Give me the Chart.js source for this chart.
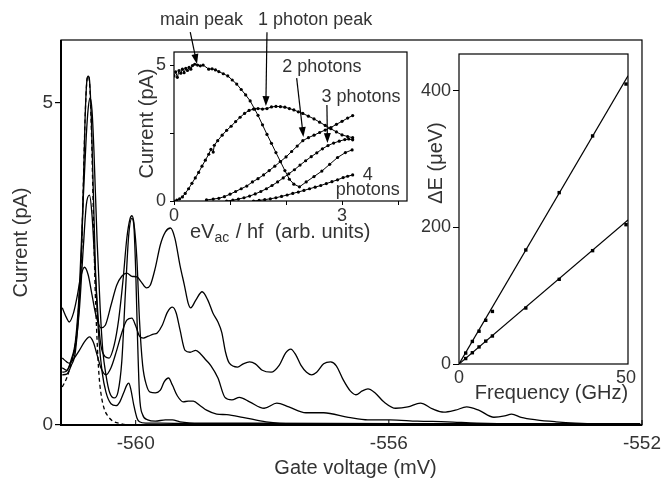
<!DOCTYPE html>
<html>
<head>
<meta charset="utf-8">
<script src="https://cdn.jsdelivr.net/npm/chart.js@4.4.0/dist/chart.umd.min.js"></script>
<style>
  html, body { margin: 0; padding: 0; background: #fff; }
  #wrap { position: relative; width: 668px; height: 480px; }
  canvas { position: absolute; }
  #main { left: 0; top: 0; }
  #ins1 { left: 100px; top: 5px; }
  #ins2 { left: 400px; top: 40px; }
</style>
</head>
<body>
<div id="wrap">
  <canvas id="main" width="668" height="480" style="width:668px;height:480px"></canvas>
  <canvas id="ins1" width="325" height="250" style="width:325px;height:250px"></canvas>
  <canvas id="ins2" width="260" height="370" style="width:260px;height:370px"></canvas>
</div>
<script>
// ---- main panel: current vs gate voltage, one sweep per microwave power ----
const gateTicks = [-560, -556, -552];
const currentTicks = [0, 5];

// no microwaves (dashed)
const vDark = [-561.16,-561.09,-561.02,-560.97,-560.92,-560.89,-560.86,-560.83,-560.80,-560.77,-560.75,-560.73,-560.70,-560.67,-560.64,-560.61,-560.58,-560.55,-560.50,-560.44,-560.36,-560.23,-560.08,-559.61,-552.03];
const iDark = [0.59,0.73,0.95,1.16,1.55,2.02,2.53,3.63,4.74,5.36,5.42,5.33,4.58,3.34,2.10,1.32,0.78,0.50,0.26,0.14,0.06,0.02,0,0,0];

const vP1 = [-561.16,-561.09,-561.02,-560.95,-560.89,-560.84,-560.80,-560.77,-560.75,-560.73,-560.70,-560.67,-560.63,-560.58,-560.53,-560.47,-560.39,-560.31,-560.25,-560.19,-560.14,-560.11,-560.08,-560.03,-559.98,-559.94,-559.84,-559.61,-558.98,-552.03];
const iP1 = [0.78,0.79,0.92,1.16,1.94,3.18,4.74,5.36,5.42,5.36,4.74,3.65,2.25,1.32,0.82,0.51,0.33,0.30,0.36,0.50,0.62,0.65,0.57,0.31,0.11,0.05,0.03,0.03,0.02,0.02];

const vP2 = [-561.16,-561.09,-561.02,-560.95,-560.89,-560.83,-560.78,-560.75,-560.72,-560.69,-560.66,-560.61,-560.56,-560.52,-560.47,-560.41,-560.34,-560.28,-560.22,-560.16,-560.11,-560.06,-560.03,-560.00,-559.97,-559.94,-559.89,-559.81,-559.69,-559.53,-559.42,-559.30,-558.98,-558.20,-555.86,-552.03];
const iP2 = [0.82,0.84,1.01,1.32,2.10,3.49,4.50,4.92,5.08,4.89,4.27,2.87,1.79,1.16,0.78,0.50,0.42,0.51,0.98,2.10,2.95,3.21,3.11,2.41,1.32,0.47,0.16,0.08,0.06,0.08,0.08,0.05,0.03,0.03,0.02,0.02];

const vP3 = [-561.16,-561.09,-561.02,-560.95,-560.89,-560.83,-560.78,-560.73,-560.69,-560.64,-560.59,-560.55,-560.48,-560.42,-560.34,-560.27,-560.20,-560.14,-560.09,-560.06,-560.03,-559.98,-559.94,-559.89,-559.83,-559.77,-559.69,-559.61,-559.55,-559.48,-559.42,-559.34,-559.25,-559.17,-559.09,-558.98,-558.88,-558.72,-558.56,-558.31,-557.94,-557.53,-556.64,-552.03];
const iP3 = [0.89,0.85,0.98,1.24,1.79,2.72,3.42,3.57,3.26,2.41,1.63,1.24,1.06,1.04,1.24,1.63,2.25,2.90,3.20,3.25,3.15,2.56,1.63,0.93,0.62,0.51,0.50,0.54,0.67,0.73,0.62,0.45,0.36,0.37,0.37,0.30,0.23,0.17,0.16,0.12,0.05,0.02,0.02,0];

const vP4 = [-561.16,-561.09,-561.05,-560.97,-560.89,-560.81,-560.73,-560.67,-560.61,-560.55,-560.47,-560.39,-560.30,-560.22,-560.14,-560.06,-560.00,-559.94,-559.88,-559.80,-559.72,-559.66,-559.58,-559.50,-559.42,-559.36,-559.30,-559.22,-559.14,-559.05,-558.97,-558.89,-558.81,-558.70,-558.59,-558.48,-558.36,-558.20,-557.97,-557.77,-557.58,-557.31,-557.03,-556.64,-556.33,-555.98,-555.55,-555.08,-554.61,-553.98,-553.36,-552.03];
const iP4 = [1.04,0.98,0.96,1.04,1.16,1.29,1.37,1.29,1.09,0.89,0.78,0.89,1.16,1.43,1.63,1.66,1.54,1.38,1.35,1.38,1.41,1.43,1.55,1.75,1.83,1.74,1.48,1.16,1.13,1.16,1.10,1.01,0.92,0.73,0.43,0.39,0.43,0.36,0.26,0.34,0.28,0.19,0.19,0.12,0.08,0.08,0.06,0.05,0.03,0.02,0.02,0.02];

const vP5 = [-561.16,-561.09,-561.05,-560.98,-560.92,-560.88,-560.81,-560.75,-560.69,-560.63,-560.55,-560.48,-560.39,-560.30,-560.22,-560.14,-560.06,-559.98,-559.91,-559.83,-559.77,-559.69,-559.61,-559.53,-559.45,-559.38,-559.30,-559.23,-559.17,-559.13,-559.05,-558.95,-558.86,-558.78,-558.70,-558.64,-558.58,-558.52,-558.39,-558.30,-558.20,-558.11,-558.00,-557.86,-557.73,-557.63,-557.55,-557.47,-557.39,-557.30,-557.22,-557.14,-557.03,-556.92,-556.83,-556.72,-556.61,-556.52,-556.42,-556.33,-556.22,-556.08,-555.89,-555.70,-555.50,-555.31,-555.13,-554.95,-554.77,-554.58,-554.34,-554.17,-554.06,-553.91,-553.67,-553.36,-553.05,-552.73,-552.03];
const iP5 = [1.82,1.66,1.60,1.75,2.02,2.25,2.45,2.33,2.02,1.71,1.51,1.55,1.86,2.17,2.31,2.36,2.31,2.30,2.22,2.13,2.17,2.44,2.80,3.00,3.06,2.90,2.48,2.17,1.89,1.82,1.94,2.07,1.94,1.74,1.60,1.44,1.13,0.96,0.90,0.95,0.98,0.95,0.85,0.82,0.93,1.12,1.18,1.09,0.93,0.82,0.78,0.82,0.95,0.98,0.92,0.70,0.53,0.47,0.53,0.56,0.50,0.36,0.26,0.28,0.34,0.25,0.20,0.23,0.28,0.23,0.12,0.14,0.17,0.12,0.08,0.05,0.03,0.02,0.02];

// ---- inset 1: peak heights vs eVac/hf ----
const ratioMain = [0.00,0.03,0.06,0.09,0.12,0.15,0.18,0.21,0.24,0.27,0.30,0.33,0.37,0.42,0.47,0.52,0.62,0.68,0.74,0.80,0.88,0.96,1.04,1.12,1.20,1.28,1.36,1.44,1.50,1.58,1.66,1.74,1.82,1.90,1.98,2.06,2.14,2.24,2.36,2.50,2.64,2.78,2.92,3.06,3.18];
const iMain = [4.60,4.75,4.55,4.80,4.70,4.85,4.72,4.88,4.80,4.92,4.85,4.98,5.03,5.00,4.97,5.00,4.85,4.86,4.82,4.76,4.68,4.60,4.45,4.30,4.10,3.90,3.68,3.38,3.15,2.80,2.45,2.12,1.78,1.45,1.12,0.80,0.62,0.52,0.70,0.90,1.10,1.35,1.60,1.78,1.88];
const ratio1 = [0.00,0.05,0.10,0.15,0.20,0.26,0.32,0.38,0.44,0.50,0.56,0.62,0.66,0.70,0.72,0.78,0.86,0.94,1.02,1.10,1.18,1.26,1.34,1.42,1.50,1.58,1.66,1.74,1.82,1.90,1.98,2.06,2.14,2.22,2.30,2.40,2.50,2.60,2.70,2.80,2.90,3.00,3.10,3.19];
const i1 = [0.00,0.03,0.08,0.15,0.28,0.45,0.65,0.85,1.05,1.28,1.50,1.72,1.90,1.80,2.05,2.22,2.42,2.60,2.75,2.92,3.08,3.22,3.33,3.38,3.40,3.38,3.40,3.46,3.48,3.47,3.45,3.40,3.35,3.28,3.22,3.12,3.02,2.90,2.78,2.66,2.54,2.43,2.37,2.33];
const ratio2 = [0.58,0.70,0.80,0.90,1.00,1.10,1.20,1.30,1.40,1.50,1.60,1.70,1.80,1.90,2.00,2.10,2.20,2.30,2.40,2.50,2.60,2.70,2.80,2.90,3.00,3.10,3.19];
const i2 = [0.04,0.07,0.10,0.16,0.25,0.35,0.45,0.55,0.70,0.82,0.96,1.12,1.28,1.45,1.62,1.82,2.02,2.22,2.33,2.42,2.52,2.61,2.70,2.82,2.93,3.05,3.14];
const ratio3 = [0.94,1.05,1.15,1.25,1.35,1.45,1.55,1.65,1.75,1.85,1.95,2.05,2.15,2.25,2.35,2.45,2.55,2.65,2.75,2.85,2.95,3.05,3.12,3.19];
const i3 = [0.00,0.03,0.07,0.12,0.18,0.26,0.35,0.45,0.57,0.70,0.85,1.00,1.15,1.32,1.48,1.63,1.77,1.92,2.04,2.13,2.20,2.26,2.28,2.25];
const ratio4 = [1.42,1.52,1.62,1.72,1.82,1.92,2.02,2.12,2.22,2.32,2.42,2.52,2.62,2.72,2.82,2.92,3.02,3.10,3.19];
const i4 = [0.00,0.02,0.05,0.08,0.12,0.17,0.22,0.28,0.33,0.39,0.45,0.51,0.57,0.64,0.71,0.78,0.86,0.91,0.96];

// ---- inset 2: peak spacing vs frequency ----
const freqGHz = [2, 4, 6, 8, 10, 20, 30, 40, 50];
const dEupper = [16, 33, 48, 64, 77, 167, 251, 334, 410];
const dElower = [8, 16.5, 25, 33.5, 41, 82, 124, 166, 204];
const fitFreq = [0, 50.6];
const fitUpper = [0, 422];
const fitLower = [0, 211];

const FAMILY = '"Liberation Sans", Arial, sans-serif';
const FONT = '18px ' + FAMILY;        // annotations
const TITLE = '20px ' + FAMILY;       // axis titles
const TEXT = '#333';
const mainTickFont = { family: FAMILY, size: 19 };
const insetTickFont = { family: FAMILY, size: 18 };

const toXY = (xs, ys) => xs.map((v, i) => ({ x: v, y: ys[i] }));
const setTicks = vals => axis => { axis.ticks = vals.map(v => ({ value: v })); };

function arrow(ctx, x0, y0, x1, y1) {
    const a = Math.atan2(y1 - y0, x1 - x0), L = 10, W = 3.5;
    ctx.beginPath();
    ctx.moveTo(x0, y0);
    ctx.lineTo(x1 - 6 * Math.cos(a), y1 - 6 * Math.sin(a));
    ctx.stroke();
    ctx.beginPath();
    ctx.moveTo(x1, y1);
    ctx.lineTo(x1 - L * Math.cos(a) + W * Math.sin(a), y1 - L * Math.sin(a) - W * Math.cos(a));
    ctx.lineTo(x1 - L * Math.cos(a) - W * Math.sin(a), y1 - L * Math.sin(a) + W * Math.cos(a));
    ctx.closePath();
    ctx.fill();
}

function frame(ctx, a, w) {
    ctx.save();
    ctx.strokeStyle = '#000';
    ctx.lineWidth = w;
    ctx.strokeRect(a.left, a.top, a.right - a.left, a.bottom - a.top);
    ctx.restore();
}

const common = {
    responsive: false,
    animation: false,
    events: [],
    plugins: { legend: { display: false }, tooltip: { enabled: false } },
};

const curve = (xs, ys, dash) => ({
    data: toXY(xs, ys),
    borderColor: '#000',
    borderWidth: 1.3,
    borderDash: dash || [],
    pointRadius: 0,
    cubicInterpolationMode: 'monotone',
    fill: false,
});

// main chart
new Chart(document.getElementById('main'), {
    type: 'line',
    data: {
        datasets: [
            curve(vDark, iDark, [4, 3]),
            curve(vP1, iP1),
            curve(vP2, iP2),
            curve(vP3, iP3),
            curve(vP4, iP4),
            curve(vP5, iP5),
        ],
    },
    options: {
        ...common,
        layout: { padding: { top: 40, right: 23, left: 0, bottom: 0 } },
        scales: {
            x: {
                type: 'linear', min: -561.18, max: -552,
                afterBuildTicks: setTicks(gateTicks),
                afterFit: s => { s.height = 55; },
                grid: { display: false, drawTicks: false, tickLength: 0 },
                border: { display: false },
                ticks: { font: mainTickFont, color: TEXT, padding: 7, maxRotation: 0, callback: v => String(v) },
            },
            y: {
                min: 0, max: 5.98,
                afterBuildTicks: setTicks(currentTicks),
                afterFit: s => { s.width = 61; },
                grid: { drawOnChartArea: false, tickLength: 6, color: '#000', lineWidth: 1.2 },
                border: { display: false },
                ticks: { font: mainTickFont, color: TEXT, padding: 2 },
            },
        },
    },
    plugins: [{
        id: 'mainDecor',
        afterDraw(chart) {
            const { ctx, chartArea: a, scales: { x } } = chart;
            frame(ctx, a, 1.2);
            ctx.save();
            ctx.strokeStyle = '#000';
            ctx.lineWidth = 2;
            ctx.beginPath();
            ctx.moveTo(a.left, a.top); ctx.lineTo(a.left, a.bottom); ctx.lineTo(a.right, a.bottom);
            ctx.stroke();
            ctx.lineWidth = 1;
            ctx.beginPath();
            gateTicks.forEach(v => {
                const px = x.getPixelForValue(v);
                ctx.moveTo(px, a.bottom); ctx.lineTo(px, a.bottom - 5);
            });
            ctx.stroke();
            ctx.fillStyle = TEXT;
            ctx.font = TITLE;
            ctx.textAlign = 'center';
            ctx.textBaseline = 'middle';
            ctx.fillText('Gate voltage (mV)', (a.left + a.right) / 2 + 4, a.bottom + 43);
            ctx.translate(21, (a.top + a.bottom) / 2 + 10);
            ctx.rotate(-Math.PI / 2);
            ctx.fillText('Current (pA)', 0, 0);
            ctx.restore();
        },
    }],
});

// inset 1
const dotted = (xs, ys) => ({
    data: toXY(xs, ys),
    borderColor: '#000',
    backgroundColor: '#000',
    borderWidth: 1,
    pointRadius: 1.6,
    pointBorderWidth: 0,
    tension: 0,
    fill: false,
});

const notes1 = [
    { text: 'main peak', tx: 0.49, ty: 6.65, from: [0.29, 6.21], to: [0.41, 5.04] },
    { text: '1 photon peak', tx: 2.52, ty: 6.65, from: [1.66, 6.21], to: [1.64, 3.49] },
    { text: '2 photons', tx: 2.64, ty: 4.94, from: [2.19, 4.52], to: [2.31, 2.35] },
    { text: '3 photons', tx: 3.34, ty: 3.83, from: [2.73, 3.53], to: [2.74, 2.13] },
    { text: '4', tx: 3.46, ty: 0.96 },
    { text: 'photons', tx: 3.46, ty: 0.40 },
];

new Chart(document.getElementById('ins1'), {
    type: 'line',
    data: {
        datasets: [
            dotted(ratioMain, iMain),
            dotted(ratio1, i1),
            dotted(ratio2, i2),
            dotted(ratio3, i3),
            dotted(ratio4, i4),
        ],
    },
    options: {
        ...common,
        layout: { padding: { top: 47, right: 18, left: 0, bottom: 0 } },
        scales: {
            x: {
                type: 'linear', min: 0, max: 4.16,
                afterBuildTicks: setTicks([0, 1, 2, 3, 4]),
                afterFit: s => { s.height = 54; },
                grid: { drawOnChartArea: false, tickLength: 4, color: '#000' },
                border: { display: false },
                ticks: { font: insetTickFont, color: TEXT, padding: 0, maxRotation: 0,
                         callback: v => (v === 0 || v === 3) ? String(v) : '' },
            },
            y: {
                min: 0, max: 5.48,
                afterBuildTicks: setTicks([0, 2.5, 5]),
                afterFit: s => { s.width = 74; },
                grid: { drawOnChartArea: false, tickLength: 4, color: '#000' },
                border: { display: false },
                ticks: { font: insetTickFont, color: TEXT, padding: 4,
                         callback: v => (v === 2.5) ? '' : String(v) },
            },
        },
    },
    plugins: [{
        id: 'inset1Decor',
        afterDraw(chart) {
            const { ctx, chartArea: a, scales: { x, y } } = chart;
            frame(ctx, a, 1.2);
            ctx.save();
            ctx.strokeStyle = '#000';
            ctx.lineWidth = 1.2;
            ctx.font = FONT;
            ctx.textAlign = 'center';
            ctx.textBaseline = 'middle';
            notes1.forEach(n => {
                ctx.fillStyle = TEXT;
                ctx.fillText(n.text, x.getPixelForValue(n.tx), y.getPixelForValue(n.ty));
                if (n.from) {
                    ctx.fillStyle = '#000';
                    arrow(ctx, x.getPixelForValue(n.from[0]), y.getPixelForValue(n.from[1]),
                          x.getPixelForValue(n.to[0]), y.getPixelForValue(n.to[1]));
                }
            });
            // x title with subscript
            ctx.fillStyle = TEXT;
            ctx.textAlign = 'left';
            ctx.font = TITLE;
            let px = a.left + 16;
            const py = a.bottom + 31;
            ctx.fillText('eV', px, py);
            px += ctx.measureText('eV').width;
            ctx.font = '14px ' + FAMILY;
            ctx.fillText('ac', px, py + 6);
            px += ctx.measureText('ac').width + 1;
            ctx.font = TITLE;
            ctx.fillText(' / hf  (arb. units)', px, py);
            ctx.textAlign = 'center';
            ctx.translate(a.left - 27, (a.top + a.bottom) / 2 - 3);
            ctx.rotate(-Math.PI / 2);
            ctx.fillText('Current (pA)', 0, 0);
            ctx.restore();
        },
    }],
});

// inset 2
new Chart(document.getElementById('ins2'), {
    type: 'line',
    data: {
        datasets: [
            { data: toXY(fitFreq, fitUpper), borderColor: '#000', borderWidth: 1.2, pointRadius: 0 },
            { data: toXY(fitFreq, fitLower), borderColor: '#000', borderWidth: 1.2, pointRadius: 0 },
            { data: toXY(freqGHz, dEupper), showLine: false, pointStyle: 'rect', pointRadius: 2.4,
              backgroundColor: '#000', borderColor: '#000', pointBorderWidth: 0 },
            { data: toXY(freqGHz, dElower), showLine: false, pointStyle: 'rect', pointRadius: 2.4,
              backgroundColor: '#000', borderColor: '#000', pointBorderWidth: 0 },
        ],
    },
    options: {
        ...common,
        layout: { padding: { top: 14, right: 32, left: 0, bottom: 0 } },
        scales: {
            x: {
                type: 'linear', min: 0, max: 50.6,
                afterBuildTicks: setTicks([0, 50]),
                afterFit: s => { s.height = 46; },
                grid: { display: false, drawTicks: false, tickLength: 0 },
                border: { display: false },
                ticks: { font: insetTickFont, color: TEXT, padding: 3, maxRotation: 0 },
            },
            y: {
                min: 0, max: 454,
                afterBuildTicks: setTicks([0, 200, 400]),
                afterFit: s => { s.width = 59; },
                grid: { drawOnChartArea: false, tickLength: 6, color: '#000' },
                border: { display: false },
                ticks: { font: insetTickFont, color: TEXT, padding: 2 },
            },
        },
    },
    plugins: [{
        id: 'inset2Decor',
        afterDraw(chart) {
            const { ctx, chartArea: a } = chart;
            frame(ctx, a, 1.2);
            ctx.save();
            ctx.fillStyle = TEXT;
            ctx.font = TITLE;
            ctx.textAlign = 'center';
            ctx.textBaseline = 'middle';
            ctx.fillText('Frequency (GHz)', (a.left + a.right) / 2 + 8, a.bottom + 29);
            ctx.translate(a.left - 23, (a.top + a.bottom) / 2 - 46);
            ctx.rotate(-Math.PI / 2);
            ctx.fillText('\u0394E (\u03BCeV)', 0, 0);
            ctx.restore();
        },
    }],
});
</script>
</body>
</html>
